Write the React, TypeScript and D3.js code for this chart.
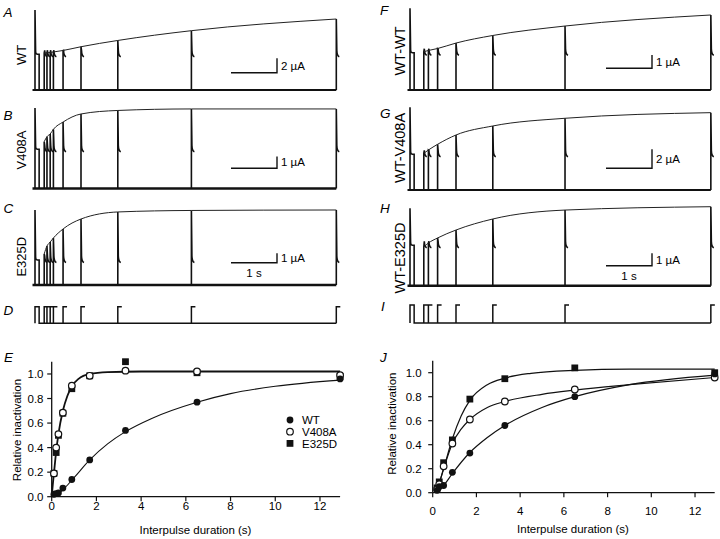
import React from "react";
import * as d3 from "d3";

// ---------------- Trace data ----------------
// test-pulse onset times (s after the onset of the first pulse)
const leftTestTimes = [0.2, 0.26, 0.33, 0.4, 0.61, 1.0, 1.8, 3.4, 6.55];
const rightTestTimes = [0.3, 0.4, 0.6, 1.0, 1.8, 3.37, 6.54];
const firstPulseWidth = 0.09;

const traceNames = ["WT", "V408A", "E325D", "WT-WT", "WT-V408A", "WT-E325D"];
const traceLetters = ["A", "B", "C", "F", "G", "H"];
// first-pulse peak and plateau currents (µA)
const traceFirstPeaks = [11.1, 6.88, 7.98, 6.14, 8.7, 6.24];
const tracePlateaus = [5.1, 3.44, 2.77, 2.88, 3.86, 3.34];
// test-pulse peak currents (µA)
const wtPeaks = [5.14, 5.17, 5.21, 5.28, 5.49, 6.01, 6.88, 8.24, 9.86];
const v408aPeaks = [4.0, 4.43, 4.66, 5.06, 5.68, 6.37, 6.67, 6.8, 6.8];
const e325dPeaks = [3.3, 4.15, 4.57, 5.0, 5.96, 7.02, 7.77, 7.93, 7.98];
const wtwtPeaks = [2.88, 2.97, 3.12, 3.53, 4.1, 4.81, 5.64];
const wtv408aPeaks = [3.86, 4.21, 4.81, 5.79, 6.74, 7.55, 8.14];
const wte325dPeaks = [3.12, 3.44, 3.85, 4.49, 5.38, 6.1, 6.37];
const scaleBarUA = [2, 1, 1, 1, 2, 1];
const scaleBarSeconds = 1;

// ---------------- Recovery plots data ----------------
const eDurations = [0.1, 0.2, 0.3, 0.5, 0.9, 1.7, 3.3, 6.5, 12.9];
const eWT = [0.02, 0.025, 0.03, 0.07, 0.14, 0.3, 0.54, 0.77, 0.96];
const eV408A = [0.19, 0.4, 0.51, 0.685, 0.905, 0.985, 1.027, 1.02, 0.99];
const eE325D = [0.19, 0.36, 0.5, 0.68, 0.88, 0.985, 1.1, 1.01, 0.98];
const eFastFitX = [0, 0.05, 0.1, 0.2, 0.3, 0.5, 0.7, 0.9, 1.2, 1.7, 2.5, 4, 8, 12.9];
const eFastFitY = [0, 0.1, 0.19, 0.37, 0.51, 0.7, 0.82, 0.9, 0.96, 1.0, 1.015, 1.02, 1.02, 1.02];
const eWTFitX = [0, 0.3, 0.6, 1, 1.7, 2.5, 3.3, 4.5, 6.5, 8, 10, 12.9];
const eWTFitY = [0, 0.025, 0.075, 0.155, 0.3, 0.43, 0.53, 0.64, 0.77, 0.84, 0.9, 0.95];
const legendLabels = ["WT", "V408A", "E325D"];

const jDurations = [0.2, 0.3, 0.5, 0.9, 1.7, 3.3, 6.5, 12.9];
const jSquares = [0.04, 0.09, 0.25, 0.44, 0.78, 0.95, 1.04, 1.0];
const jOpen = [0.03, 0.07, 0.22, 0.41, 0.61, 0.76, 0.86, 0.96];
const jFilled = [0.02, 0.05, 0.06, 0.17, 0.33, 0.56, 0.8, 0.99];
const jSqFitX = [0.1, 0.2, 0.3, 0.5, 0.9, 1.3, 1.7, 2.5, 3.3, 4.5, 6.5, 9, 12.9];
const jSqFitY = [0.0, 0.03, 0.08, 0.2, 0.45, 0.64, 0.77, 0.9, 0.955, 0.995, 1.02, 1.03, 1.03];
const jOpenFitX = [0.1, 0.2, 0.3, 0.5, 0.9, 1.3, 1.7, 2.5, 3.3, 5, 6.5, 9, 12.9];
const jOpenFitY = [0.0, 0.03, 0.08, 0.2, 0.41, 0.53, 0.61, 0.71, 0.76, 0.82, 0.855, 0.9, 0.96];
const jFillFitX = [0.1, 0.2, 0.5, 0.9, 1.7, 2.5, 3.3, 5, 6.5, 9, 12.9];
const jFillFitY = [0.0, 0.01, 0.06, 0.16, 0.335, 0.46, 0.56, 0.71, 0.8, 0.9, 0.98];
const xTicks = [0, 2, 4, 6, 8, 10, 12];
const yTicks = [0, 0.2, 0.4, 0.6, 0.8, 1.0];
const xTitle = "Interpulse duration (s)";
const yTitle = "Relative inactivation";

// ---------------- Layout ----------------
const FONT = "'Liberation Sans', Arial, Helvetica, sans-serif";
const PX_PER_S = 46;
const traceLayout = [
  { x0: 35, baseline: 90, pxPerUA: 7.2, barX: 277, barY: 72.7, noisy: false, nameX: 26, nameY: 55, nameSize: 13, letterX: 3.5, letterY: 17, showSec: false },
  { x0: 35, baseline: 188.5, pxPerUA: 11.7, barX: 277, barY: 168.3, noisy: true, nameX: 26, nameY: 150, nameSize: 13, letterX: 3.5, letterY: 120, showSec: false },
  { x0: 35, baseline: 285, pxPerUA: 9.4, barX: 277, barY: 262.7, noisy: true, nameX: 26, nameY: 256.7, nameSize: 13, letterX: 3.5, letterY: 213, showSec: true },
  { x0: 410, baseline: 90, pxPerUA: 13.3, barX: 652, barY: 68.3, noisy: false, nameX: 404.5, nameY: 51, nameSize: 14.5, letterX: 380, letterY: 15, showSec: false },
  { x0: 410, baseline: 190, pxPerUA: 9.5, barX: 652, barY: 168.3, noisy: false, nameX: 404.5, nameY: 148, nameSize: 14.5, letterX: 380, letterY: 118, showSec: false },
  { x0: 410, baseline: 285.7, pxPerUA: 12.4, barX: 652, barY: 265.7, noisy: true, nameX: 404.5, nameY: 258, nameSize: 14.5, letterX: 380, letterY: 213, showSec: true },
];
const tracePeaks = [wtPeaks, v408aPeaks, e325dPeaks, wtwtPeaks, wtv408aPeaks, wte325dPeaks];

function TracePanel({ i }: { i: number }) {
  const L = traceLayout[i];
  const times = i < 3 ? leftTestTimes : rightTestTimes;
  const peaks = tracePeaks[i];
  const maxT = times[times.length - 1];
  const xs = d3.scaleLinear().domain([0, maxT]).range([L.x0, L.x0 + maxT * PX_PER_S]);
  const ys = d3.scaleLinear().domain([0, 1]).range([L.baseline, L.baseline - L.pxPerUA]);
  const yb = ys(0);
  const ypl = ys(tracePlateaus[i]);
  const x0 = xs(0);
  const x1 = xs(firstPulseWidth);
  const first = `M${x0},${yb} L${x0},${ys(traceFirstPeaks[i])} L${x0 + 0.6},${ypl - 2} C${x0 + 0.8},${ypl + 1} ${x0 + 1.5},${ypl + 1} ${x1},${ypl + 1} L${x1},${yb}`;
  const tests = times.map((t, k) => {
    const x = xs(t);
    return `M${x},${yb} L${x},${ys(peaks[k])} L${x + 0.5},${ypl - 3} C${x + 0.7},${ypl + 2} ${x + 1.5},${ypl + 3} ${x + 3},${ypl + 3.5}`;
  });
  const env = d3
    .line<number>()
    .x((_, k) => xs(times[k]))
    .y((p) => ys(p))
    .curve(d3.curveMonotoneX)(peaks) as string;
  const barLenX = xs(scaleBarSeconds) - xs(0);
  const barLenY = ys(0) - ys(scaleBarUA[i]);
  return (
    <g>
      <text x={L.letterX} y={L.letterY} fontSize={13.5} fontStyle="italic" fontFamily={FONT}>
        {traceLetters[i]}
      </text>
      <text
        transform={`translate(${L.nameX},${L.nameY}) rotate(-90)`}
        textAnchor="middle"
        fontSize={L.nameSize}
        fontFamily={FONT}
      >
        {traceNames[i]}
      </text>
      <line x1={x0 - 2.5} x2={xs(maxT)} y1={yb} y2={yb} stroke="#111" strokeWidth={L.noisy ? 2.6 : 1.8} />
      <path d={first} fill="none" stroke="#111" strokeWidth={1.6} />
      {tests.map((d, k) => (
        <path key={k} d={d} fill="none" stroke="#111" strokeWidth={1.6} />
      ))}
      <path d={env} fill="none" stroke="#222" strokeWidth={1} />
      <path
        d={`M${L.barX - barLenX},${L.barY} H${L.barX} V${L.barY - barLenY}`}
        fill="none"
        stroke="#111"
        strokeWidth={1.4}
      />
      <text x={L.barX + 4} y={L.barY - barLenY / 2 + 4} fontSize={11.5} fontFamily={FONT}>
        {`${scaleBarUA[i]} µA`}
      </text>
      {L.showSec && (
        <text x={L.barX - barLenX / 2} y={L.barY + 14} fontSize={11.5} fontFamily={FONT} textAnchor="middle">
          {`${scaleBarSeconds} s`}
        </text>
      )}
    </g>
  );
}

function StimPanel({ left }: { left: boolean }) {
  const times = left ? leftTestTimes : rightTestTimes;
  const x0 = left ? 35 : 410;
  const top = left ? 306.7 : 305;
  const base = left ? 323.3 : 323;
  const maxT = times[times.length - 1];
  const xs = d3.scaleLinear().domain([0, maxT]).range([x0, x0 + maxT * PX_PER_S]);
  const ys = d3.scaleLinear().domain([0, 1]).range([base, top]);
  const d =
    `M${xs(0)},${ys(0)} V${ys(1)} H${xs(firstPulseWidth)} V${ys(0)} H${xs(maxT)} ` +
    times.map((t) => `M${xs(t)},${ys(0)} V${ys(1)} h4`).join(" ");
  return (
    <g>
      <text x={left ? 3.5 : 381} y={left ? 315 : 311} fontSize={13.5} fontStyle="italic" fontFamily={FONT}>
        {left ? "D" : "I"}
      </text>
      <path d={d} fill="none" stroke="#111" strokeWidth={1.5} />
    </g>
  );
}

type Series = { xs: number[]; ys: number[]; kind: "filled" | "open" | "square" };
type Fit = { xs: number[]; ys: number[]; w: number };

function Marker({ kind, cx, cy }: { kind: string; cx: number; cy: number }) {
  if (kind === "square") return <rect x={cx - 3.4} y={cy - 3.4} width={6.8} height={6.8} fill="#111" />;
  if (kind === "open") return <circle cx={cx} cy={cy} r={3.3} fill="#fff" stroke="#111" strokeWidth={1.2} />;
  return <circle cx={cx} cy={cy} r={3.4} fill="#111" />;
}

function RecoveryPlot(props: {
  letter: string;
  letterX: number;
  letterY: number;
  xr: [number, number];
  yr: [number, number];
  xLabelY: number;
  yLabelRight: number;
  titleX: number;
  titleY: number;
  yTitleX: number;
  yTitleY: number;
  fits: Fit[];
  series: Series[];
  legend?: boolean;
}) {
  const xs = d3.scaleLinear().domain([0, 12.9]).range(props.xr);
  const ys = d3.scaleLinear().domain([0, 1.1]).range(props.yr);
  const line = d3
    .line<[number, number]>()
    .x((d) => xs(d[0]))
    .y((d) => ys(d[1]))
    .curve(d3.curveMonotoneX);
  const ax = xs(0);
  const ay = ys(0);
  return (
    <g fontFamily={FONT}>
      <text x={props.letterX} y={props.letterY} fontSize={13.5} fontStyle="italic">
        {props.letter}
      </text>
      <line x1={ax} x2={ax} y1={ay} y2={ys(1.1)} stroke="#111" strokeWidth={1.3} />
      <line x1={ax} x2={xs(12.9)} y1={ay} y2={ay} stroke="#111" strokeWidth={1.3} />
      {xTicks.map((t) => (
        <g key={t}>
          <line x1={xs(t)} x2={xs(t)} y1={ay} y2={ay + 4.5} stroke="#111" strokeWidth={1.2} />
          <text x={xs(t)} y={props.xLabelY} fontSize={11.5} textAnchor="middle">
            {t}
          </text>
        </g>
      ))}
      {yTicks.map((t) => (
        <g key={t}>
          <line x1={ax - 4.5} x2={ax} y1={ys(t)} y2={ys(t)} stroke="#111" strokeWidth={1.2} />
          <text x={props.yLabelRight} y={ys(t) + 4} fontSize={11.5} textAnchor="end">
            {d3.format(".1f")(t)}
          </text>
        </g>
      ))}
      <text x={props.titleX} y={props.titleY} fontSize={11.5} textAnchor="middle">
        {xTitle}
      </text>
      <text transform={`translate(${props.yTitleX},${props.yTitleY}) rotate(-90)`} fontSize={11.5} textAnchor="middle">
        {yTitle}
      </text>
      {props.fits.map((f, k) => (
        <path
          key={k}
          d={line(f.xs.map((x, j) => [x, f.ys[j]] as [number, number])) as string}
          fill="none"
          stroke="#111"
          strokeWidth={f.w}
        />
      ))}
      {props.series.map((s, k) => (
        <g key={k}>
          {s.xs.map((x, j) => (
            <Marker key={j} kind={s.kind} cx={xs(x)} cy={ys(s.ys[j])} />
          ))}
        </g>
      ))}
      {props.legend &&
        (["filled", "open", "square"] as const).map((kind, k) => (
          <g key={kind}>
            <Marker kind={kind} cx={290} cy={420 + k * 11.7} />
            <text x={302} y={420 + k * 11.7 + 4.2} fontSize={11.5}>
              {legendLabels[k]}
            </text>
          </g>
        ))}
    </g>
  );
}

export default function App() {
  return (
    <svg
      width={720}
      height={539}
      viewBox="0 0 720 539"
      style={{ position: "absolute", left: 0, top: 0, background: "#fff" }}
    >
      <rect x={0} y={0} width={720} height={539} fill="#fff" />
      {[0, 1, 2, 3, 4, 5].map((i) => (
        <TracePanel key={i} i={i} />
      ))}
      <StimPanel left={true} />
      <StimPanel left={false} />
      <RecoveryPlot
        letter="E"
        letterX={4}
        letterY={362}
        xr={[51.7, 340.1]}
        yr={[496.7, 361.7]}
        xLabelY={509.5}
        yLabelRight={43.5}
        titleX={195.5}
        titleY={534}
        yTitleX={20.7}
        yTitleY={430}
        fits={[
          { xs: eWTFitX, ys: eWTFitY, w: 1.1 },
          { xs: eFastFitX, ys: eFastFitY, w: 1.8 },
        ]}
        series={[
          { xs: eDurations, ys: eE325D, kind: "square" },
          { xs: eDurations, ys: eV408A, kind: "open" },
          { xs: eDurations, ys: eWT, kind: "filled" },
        ]}
        legend={true}
      />
      <RecoveryPlot
        letter="J"
        letterX={380}
        letterY={362}
        xr={[432.7, 714.7]}
        yr={[492.7, 360.7]}
        xLabelY={515}
        yLabelRight={421.7}
        titleX={573}
        titleY={532.5}
        yTitleX={396.3}
        yTitleY={423.7}
        fits={[
          { xs: jFillFitX, ys: jFillFitY, w: 1.2 },
          { xs: jOpenFitX, ys: jOpenFitY, w: 1.2 },
          { xs: jSqFitX, ys: jSqFitY, w: 1.2 },
        ]}
        series={[
          { xs: jDurations, ys: jSquares, kind: "square" },
          { xs: jDurations, ys: jOpen, kind: "open" },
          { xs: jDurations, ys: jFilled, kind: "filled" },
        ]}
      />
    </svg>
  );
}
